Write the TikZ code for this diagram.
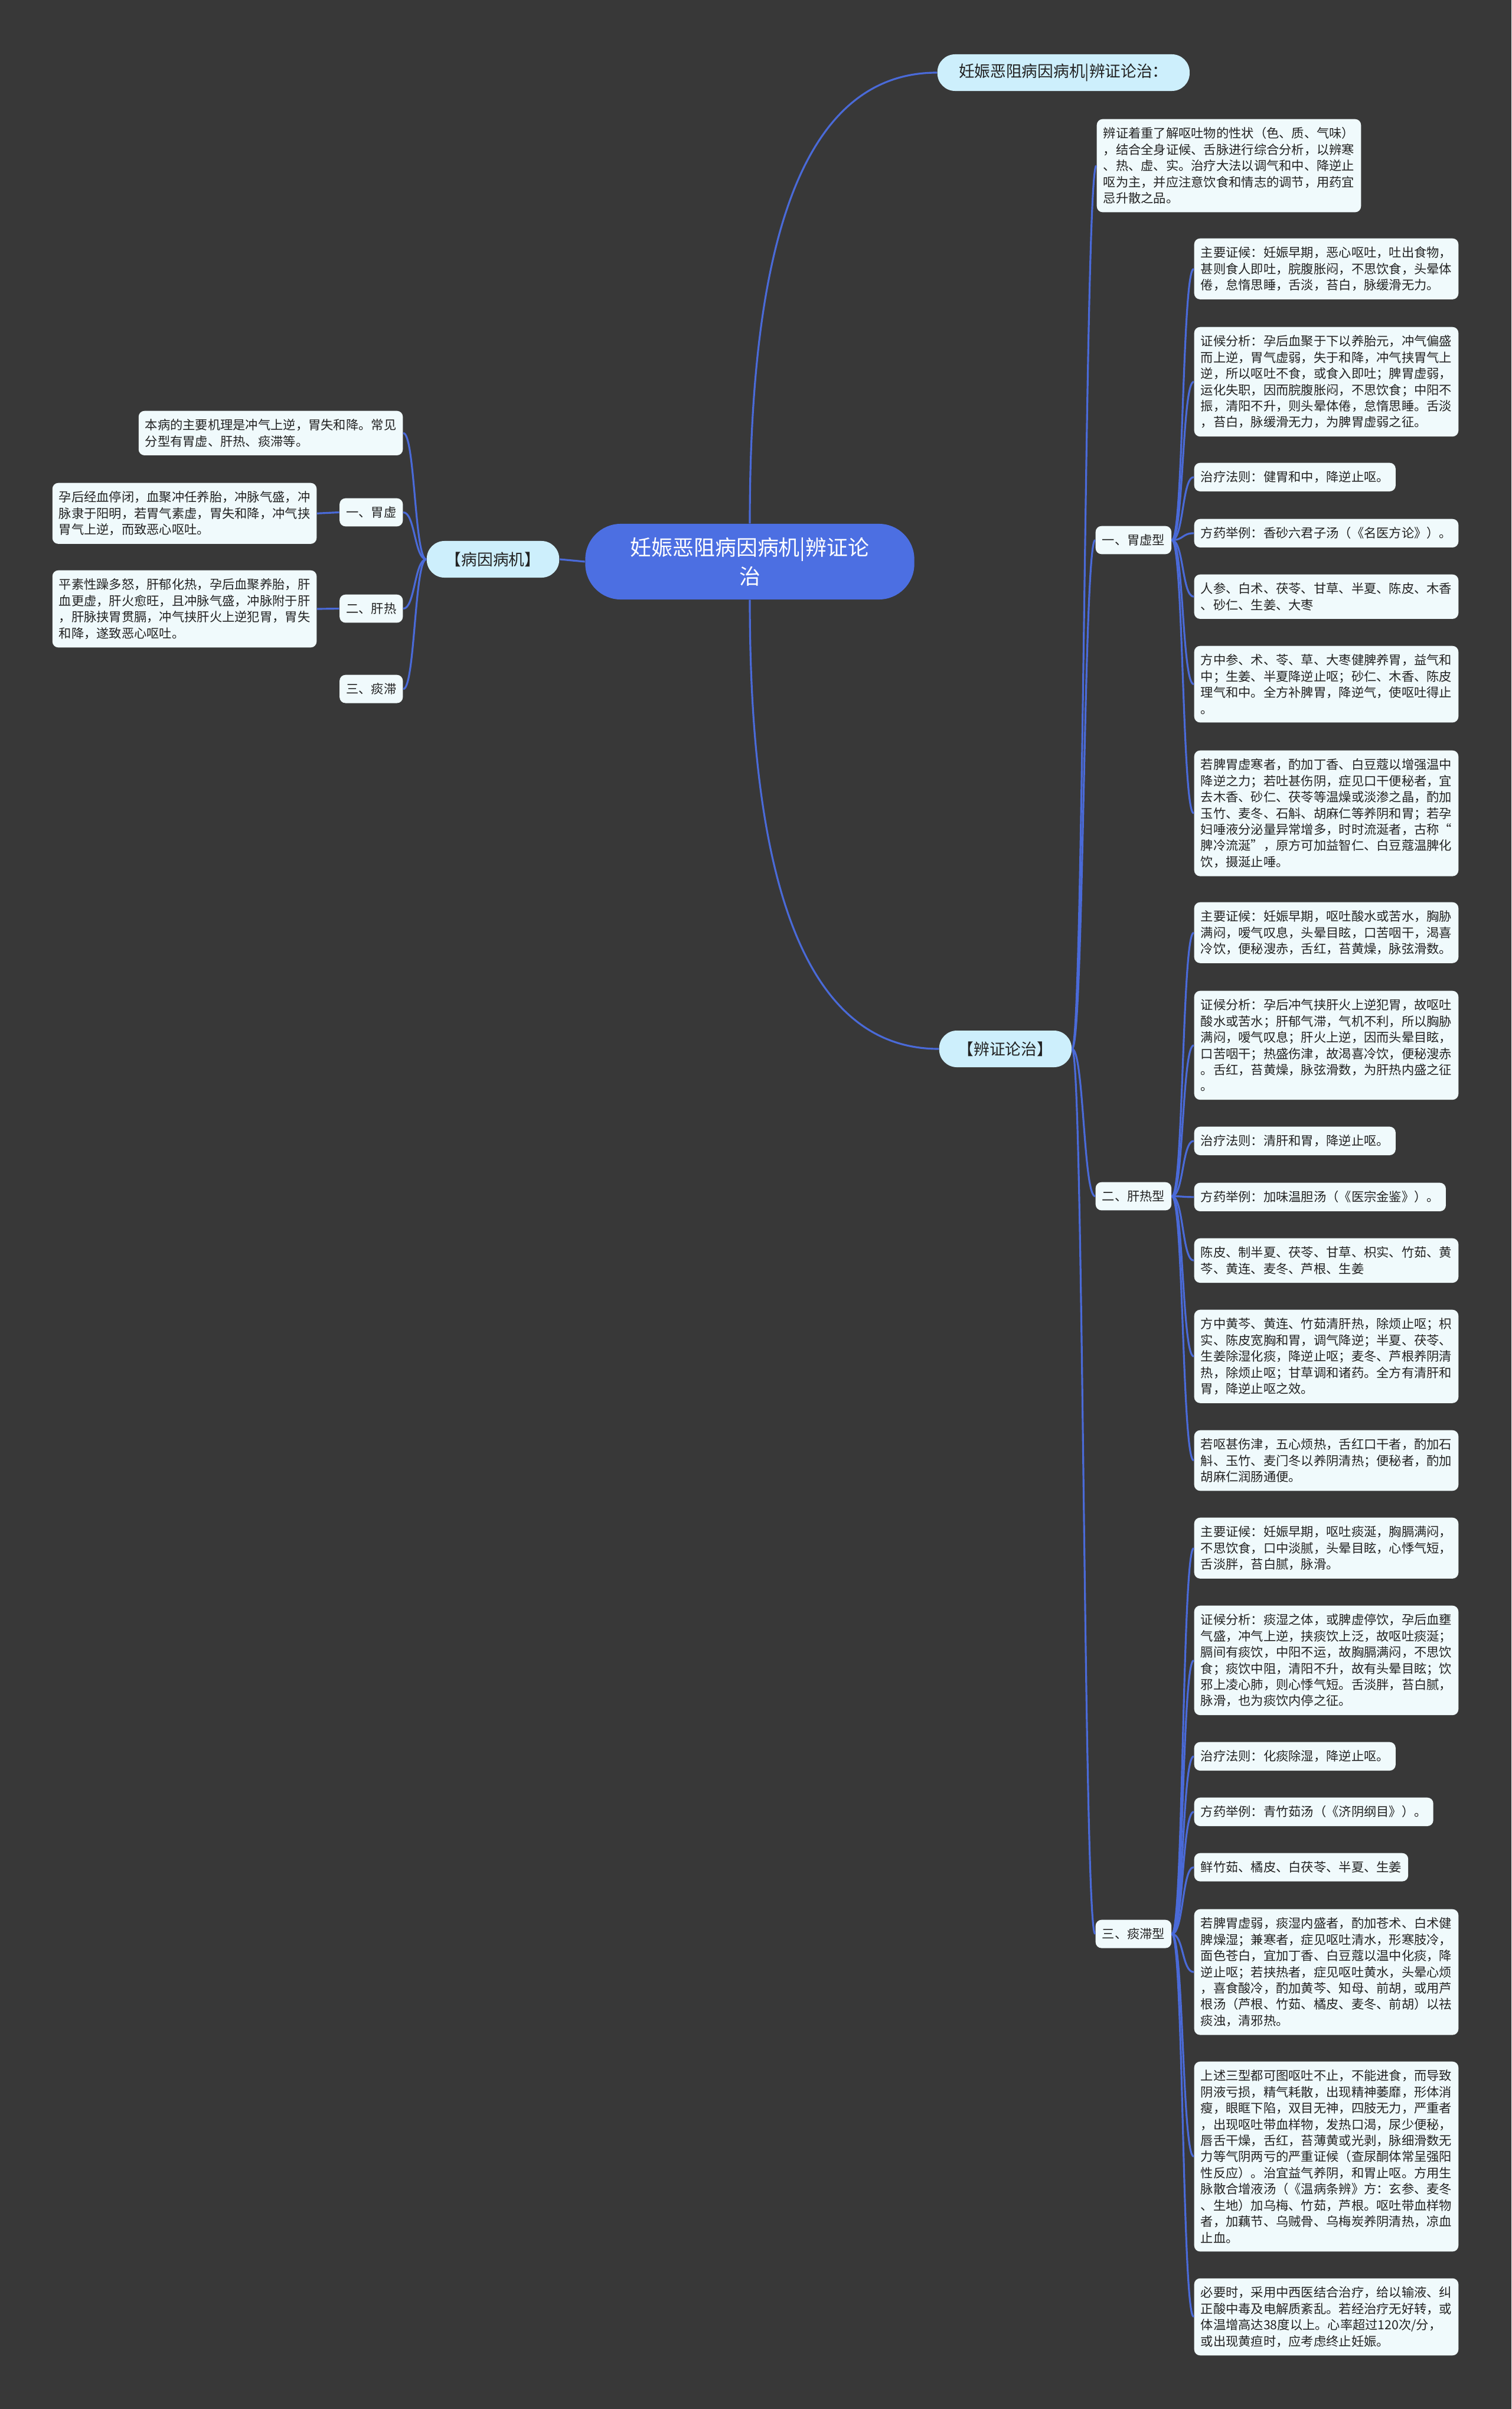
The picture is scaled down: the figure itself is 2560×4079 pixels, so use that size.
\documentclass[tikz,border=0pt]{standalone}
\usepackage{fontspec}
\usepackage{tikz}
\usetikzlibrary{calc}
\newfontfamily\cjk{Noto Sans CJK SC}
\definecolor{mmbg}{HTML}{383838}
\definecolor{mmblue}{HTML}{4A6AD8}
\definecolor{mmroot}{HTML}{4C6FE2}
\definecolor{mmmain}{HTML}{CDEFFC}
\definecolor{mmleaf}{HTML}{F0FAFC}
\definecolor{mmink}{HTML}{222222}
\tikzset{
  leafBox/.style={fill=mmleaf, text=mmink, rounded corners=0.1cm, align=left, inner xsep=0.11cm, inner ysep=0.14cm, font=\cjk\fontsize{6.05pt}{7.8pt}\selectfont},
  mainBox/.style={fill=mmmain, text=mmink, rounded corners=0.3cm, minimum height=0.62cm, inner xsep=0.32cm, font=\cjk\fontsize{7.6pt}{9pt}\selectfont},
  rootBox/.style={fill=mmroot, text=white, rounded corners=0.6cm, align=center, minimum width=5.57cm, minimum height=1.28cm, font=\cjk\fontsize{10.2pt}{13.9pt}\selectfont},
  linkLine/.style={draw=mmblue, line width=0.9pt, to path={.. controls ($(\tikztostart)+(20,0)$) and ($(\tikztotarget)+(-20,0)$) .. (\tikztotarget)}}
}

\begin{document}
\begin{tikzpicture}[x=0.01cm,y=-0.01cm]
  \fill[mmbg] (0,0) rectangle (2560,4079);
  \useasboundingbox (0,0) rectangle (2560,4079);

  \node[rootBox] (root) at (1270,951) {妊娠恶阻病因病机|辨证论\\治};
  \node[mainBox, anchor=west, minimum width=4.27cm] (title) at (1587,123) {妊娠恶阻病因病机|辨证论治：};
  \node[mainBox, minimum width=2.18cm] (bingyin) at (835,947) {【病因病机】};
  \node[mainBox, anchor=west, minimum width=2.23cm] (bianzheng) at (1590,1776) {【辨证论治】};

  % left side
  \node[leafBox, anchor=north east] (bjl) at (683,695) {本病的主要机理是冲气上逆，胃失和降。常见\\分型有胃虚、肝热、痰滞等。};
  \node[leafBox, anchor=north east] (lw) at (683,843) {一、胃虚};
  \node[leafBox, anchor=north east] (lw1) at (537,817) {孕后经血停闭，血聚冲任养胎，冲脉气盛，冲\\脉隶于阳明，若胃气素虚，胃失和降，冲气挟\\胃气上逆，而致恶心呕吐。};
  \node[leafBox, anchor=north east] (lg) at (683,1006) {二、肝热};
  \node[leafBox, anchor=north east] (lg1) at (537,965) {平素性躁多怒，肝郁化热，孕后血聚养胎，肝\\血更虚，肝火愈旺，且冲脉气盛，冲脉附于肝\\，肝脉挟胃贯膈，冲气挟肝火上逆犯胃，胃失\\和降，遂致恶心呕吐。};
  \node[leafBox, anchor=north east] (lt) at (683,1142) {三、痰滞};

  % right side
  \node[leafBox, anchor=north west] (wx0) at (1857,201) {辨证着重了解呕吐物的性状（色、质、气味）\\，结合全身证候、舌脉进行综合分析，以辨寒\\、热、虚、实。治疗大法以调气和中、降逆止\\呕为主，并应注意饮食和情志的调节，用药宜\\忌升散之品。};
  \node[leafBox, anchor=north west] (wx) at (1855,890) {一、胃虚型};
  \node[leafBox, anchor=north west] (gr) at (1855,2001) {二、肝热型};
  \node[leafBox, anchor=north west] (tz) at (1855,3250) {三、痰滞型};

  \node[leafBox, anchor=north west] (wx1) at (2022,403) {主要证候：妊娠早期，恶心呕吐，吐出食物，\\甚则食人即吐，脘腹胀闷，不思饮食，头晕体\\倦，怠惰思睡，舌淡，苔白，脉缓滑无力。};
  \node[leafBox, anchor=north west] (wx2) at (2022,553) {证候分析：孕后血聚于下以养胎元，冲气偏盛\\而上逆，胃气虚弱，失于和降，冲气挟胃气上\\逆，所以呕吐不食，或食入即吐；脾胃虚弱，\\运化失职，因而脘腹胀闷，不思饮食；中阳不\\振，清阳不升，则头晕体倦，怠惰思睡。舌淡\\，苔白，脉缓滑无力，为脾胃虚弱之征。};
  \node[leafBox, anchor=north west] (wx3) at (2022,783) {治疗法则：健胃和中，降逆止呕。};
  \node[leafBox, anchor=north west] (wx4) at (2022,878) {方药举例：香砂六君子汤（《名医方论》）。};
  \node[leafBox, anchor=north west] (wx5) at (2022,972) {人参、白术、茯苓、甘草、半夏、陈皮、木香\\、砂仁、生姜、大枣};
  \node[leafBox, anchor=north west] (wx6) at (2022,1093) {方中参、术、苓、草、大枣健脾养胃，益气和\\中；生姜、半夏降逆止呕；砂仁、木香、陈皮\\理气和中。全方补脾胃，降逆气，使呕吐得止\\。};
  \node[leafBox, anchor=north west] (wx7) at (2022,1270) {若脾胃虚寒者，酌加丁香、白豆蔻以增强温中\\降逆之力；若吐甚伤阴，症见口干便秘者，宜\\去木香、砂仁、茯苓等温燥或淡渗之晶，酌加\\玉竹、麦冬、石斛、胡麻仁等养阴和胃；若孕\\妇唾液分泌量异常增多，时时流涎者，古称“\\脾冷流涎”，原方可加益智仁、白豆蔻温脾化\\饮，摄涎止唾。};

  \node[leafBox, anchor=north west] (gr1) at (2022,1527) {主要证候：妊娠早期，呕吐酸水或苦水，胸胁\\满闷，嗳气叹息，头晕目眩，口苦咽干，渴喜\\冷饮，便秘溲赤，舌红，苔黄燥，脉弦滑数。};
  \node[leafBox, anchor=north west] (gr2) at (2022,1677) {证候分析：孕后冲气挟肝火上逆犯胃，故呕吐\\酸水或苦水；肝郁气滞，气机不利，所以胸胁\\满闷，嗳气叹息；肝火上逆，因而头晕目眩，\\口苦咽干；热盛伤津，故渴喜冷饮，便秘溲赤\\。舌红，苔黄燥，脉弦滑数，为肝热内盛之征\\。};
  \node[leafBox, anchor=north west] (gr3) at (2022,1907) {治疗法则：清肝和胃，降逆止呕。};
  \node[leafBox, anchor=north west] (gr4) at (2022,2002) {方药举例：加味温胆汤（《医宗金鉴》）。};
  \node[leafBox, anchor=north west] (gr5) at (2022,2096) {陈皮、制半夏、茯苓、甘草、枳实、竹茹、黄\\芩、黄连、麦冬、芦根、生姜};
  \node[leafBox, anchor=north west] (gr6) at (2022,2217) {方中黄芩、黄连、竹茹清肝热，除烦止呕；枳\\实、陈皮宽胸和胃，调气降逆；半夏、茯苓、\\生姜除湿化痰，降逆止呕；麦冬、芦根养阴清\\热，除烦止呕；甘草调和诸药。全方有清肝和\\胃，降逆止呕之效。};
  \node[leafBox, anchor=north west] (gr7) at (2022,2421) {若呕甚伤津，五心烦热，舌红口干者，酌加石\\斛、玉竹、麦门冬以养阴清热；便秘者，酌加\\胡麻仁润肠通便。};

  \node[leafBox, anchor=north west] (tz1) at (2022,2569) {主要证候：妊娠早期，呕吐痰涎，胸膈满闷，\\不思饮食，口中淡腻，头晕目眩，心悸气短，\\舌淡胖，苔白腻，脉滑。};
  \node[leafBox, anchor=north west] (tz2) at (2022,2718) {证候分析：痰湿之体，或脾虚停饮，孕后血壅\\气盛，冲气上逆，挟痰饮上泛，故呕吐痰涎；\\膈间有痰饮，中阳不运，故胸膈满闷，不思饮\\食；痰饮中阻，清阳不升，故有头晕目眩；饮\\邪上凌心肺，则心悸气短。舌淡胖，苔白腻，\\脉滑，也为痰饮内停之征。};
  \node[leafBox, anchor=north west] (tz3) at (2022,2949) {治疗法则：化痰除湿，降逆止呕。};
  \node[leafBox, anchor=north west] (tz4) at (2022,3043) {方药举例：青竹茹汤（《济阴纲目》）。};
  \node[leafBox, anchor=north west] (tz5) at (2022,3137) {鲜竹茹、橘皮、白茯苓、半夏、生姜};
  \node[leafBox, anchor=north west] (tz6) at (2022,3232) {若脾胃虚弱，痰湿内盛者，酌加苍术、白术健\\脾燥湿；兼寒者，症见呕吐清水，形寒肢冷，\\面色苍白，宜加丁香、白豆蔻以温中化痰，降\\逆止呕；若挟热者，症见呕吐黄水，头晕心烦\\，喜食酸冷，酌加黄芩、知母、前胡，或用芦\\根汤（芦根、竹茹、橘皮、麦冬、前胡）以祛\\痰浊，清邪热。};
  \node[leafBox, anchor=north west] (tz7) at (2022,3490) {上述三型都可图呕吐不止，不能进食，而导致\\阴液亏损，精气耗散，出现精神萎靡，形体消\\瘦，眼眶下陷，双目无神，四肢无力，严重者\\，出现呕吐带血样物，发热口渴，尿少便秘，\\唇舌干燥，舌红，苔薄黄或光剥，脉细滑数无\\力等气阴两亏的严重证候（查尿酮体常呈强阳\\性反应）。治宜益气养阴，和胃止呕。方用生\\脉散合增液汤（《温病条辨》方：玄参、麦冬\\、生地）加乌梅、竹茹，芦根。呕吐带血样物\\者，加藕节、乌贼骨、乌梅炭养阴清热，凉血\\止血。};
  \node[leafBox, anchor=north west] (tz8) at (2022,3857) {必要时，采用中西医结合治疗，给以输液、纠\\正酸中毒及电解质紊乱。若经治疗无好转，或\\体温增高达38度以上。心率超过120次/分，\\或出现黄疸时，应考虑终止妊娠。};

  % connectors
  \draw[mmblue, line width=0.9pt] (root.north) .. controls ($(root.north)+(0,-387)$) and ($(title.west)+(-260,0)$) .. (title.west);
  \draw[mmblue, line width=0.9pt] (root.south) .. controls ($(root.south)+(0,385)$) and ($(bianzheng.west)+(-260,0)$) .. (bianzheng.west);
  \draw[mmblue, line width=0.9pt] (root.west) -- (bingyin.east);
  \foreach \n in {bjl,lw,lg,lt}
    \draw[linkLine] (\n.east) to (bingyin.west);
  \draw[mmblue, line width=0.9pt] (lw.west) -- (lw1.east);
  \draw[mmblue, line width=0.9pt] (lg.west) -- (lg1.east);
  \foreach \n in {wx0,wx,gr,tz}
    \draw[linkLine] (bianzheng.east) to (\n.west);
  \foreach \i in {1,...,7}
    \draw[linkLine] (wx.east) to (wx\i.west);
  \foreach \i in {1,...,7}
    \draw[linkLine] (gr.east) to (gr\i.west);
  \foreach \i in {1,...,8}
    \draw[linkLine] (tz.east) to (tz\i.west);
\end{tikzpicture}
\end{document}
